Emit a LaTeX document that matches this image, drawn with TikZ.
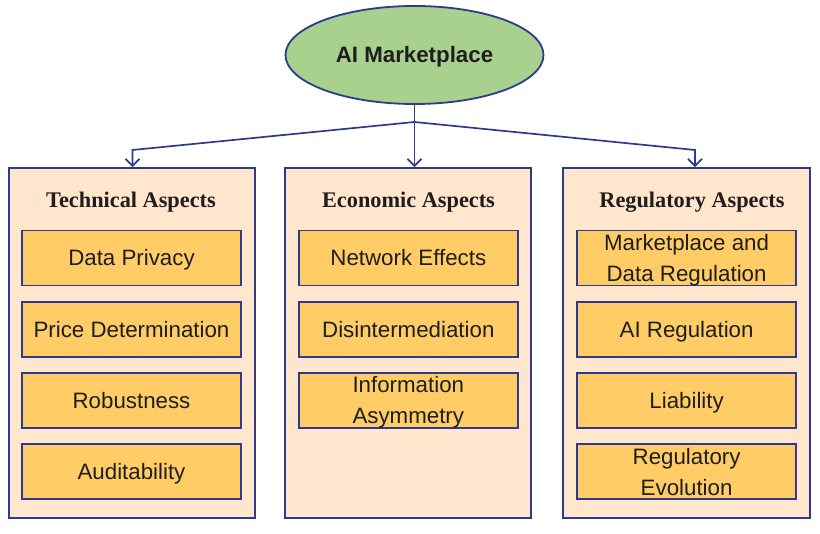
\documentclass[tikz,border=0pt]{standalone}
\usepackage{fontspec}
\setmainfont{Liberation Serif}
\setsansfont{Liberation Sans}
\usetikzlibrary{shapes.geometric,arrows.meta,calc}
\definecolor{navy}{HTML}{2E3B8C}
\definecolor{panelfill}{HTML}{FFE6CC}
\definecolor{itemfill}{HTML}{FFCC66}
\definecolor{topfill}{HTML}{A9D18E}
\definecolor{ink}{HTML}{1E1E1E}
\begin{document}
\begin{tikzpicture}[x=1pt,y=-1pt,
 panel/.style={draw=navy,line width=1.9pt,fill=panelfill,minimum width=246pt,minimum height=350pt,inner sep=0pt},
 item/.style={draw=navy,line width=1.9pt,fill=itemfill,minimum width=219pt,minimum height=55pt,inner sep=0pt,font=\sffamily\fontsize{22.3}{26}\selectfont,text=ink,text height=16pt,text depth=0pt},
 itemtext/.style={anchor=base,inner sep=0pt,font=\sffamily\fontsize{22.3}{26}\selectfont,text=ink},
 heading/.style={anchor=base,inner sep=0pt,font=\bfseries\fontsize{22.3}{26}\selectfont,text=ink},
 conn/.style={draw=navy,line width=1.7pt},
 arr/.style={conn,-{Straight Barb[length=7pt,width=14pt]}}
]
\useasboundingbox (0,0) rectangle (820,534);
\fill[white] (0,0) rectangle (820,534);

% top ellipse
\node[ellipse,draw=navy,line width=1.8pt,fill=topfill,minimum width=258pt,minimum height=98pt,inner sep=0pt,
      font=\sffamily\bfseries\fontsize{22.3}{26}\selectfont,text=ink,text height=16pt,text depth=0pt] (top) at (414.5,55) {AI Marketplace};

% panels
\node[panel] (pl) at (132,343) {};
\node[panel] (pm) at (408,343) {};
\node[panel,minimum width=247pt] (pr) at (686.5,343) {};

% headings
\node[heading] (hl) at (131,207.5) {Technical Aspects};
\node[heading] (hm) at (408.5,207.5) {Economic Aspects};
\node[heading] (hr) at (692,207.5) {Regulatory Aspects};

% connectors
\coordinate (br) at (414.5,122);
\coordinate (kL) at (132.5,150);
\coordinate (kR) at (695,150);
\draw[conn] (top.south) -- (br);
\draw[arr] (br) -- (kL) -- (kL |- pl.north);
\draw[arr] (br) -- (br |- pm.north);
\draw[arr] (br) -- (kR) -- (kR |- pr.north);

% technical items
\node[item] (t1) at (131.5,258) {Data Privacy};
\node[item] (t2) at (131.5,329.5) {Price Determination};
\node[item] (t3) at (131.5,400.5) {Robustness};
\node[item] (t4) at (131.5,471.5) {Auditability};

% economic items
\node[item] (e1) at (408.3,258) {Network Effects};
\node[item] (e2) at (408.3,329.5) {Disintermediation};
\node[item] (e3) at (408.3,400.5) {};
\node[itemtext] (e3a) at ($(e3.center)+(0,-7.5)$) {Information};
\node[itemtext] (e3b) at ($(e3.center)+(0,23)$) {Asymmetry};

% regulatory items
\node[item] (r1) at (686.6,258) {};
\node[itemtext] (r1a) at ($(r1.center)+(0,-7)$) {Marketplace and};
\node[itemtext] (r1b) at ($(r1.center)+(0,24)$) {Data Regulation};
\node[item] (r2) at (686.6,329.5) {AI Regulation};
\node[item] (r3) at (686.6,400.5) {Liability};
\node[item] (r4) at (686.6,471.5) {};
\node[itemtext] (r4a) at ($(r4.center)+(0,-7)$) {Regulatory};
\node[itemtext] (r4b) at ($(r4.center)+(0,24)$) {Evolution};
\end{tikzpicture}
\end{document}
